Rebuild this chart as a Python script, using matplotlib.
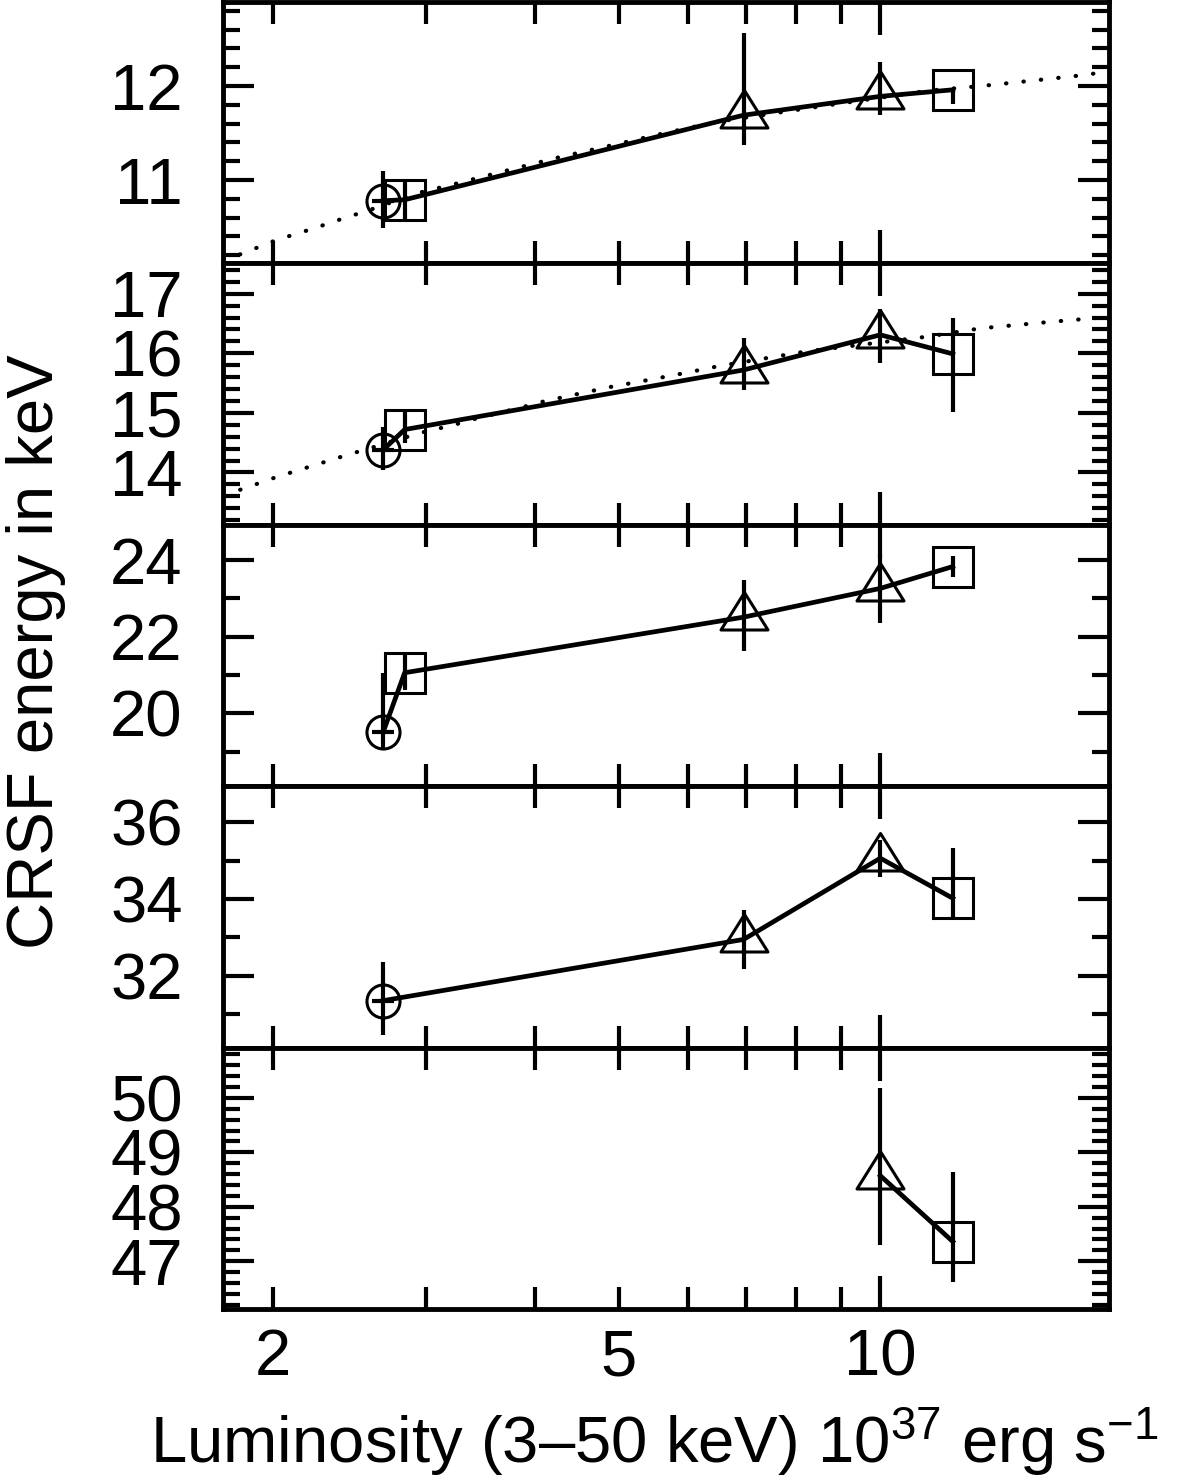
"""CRSF energy vs luminosity, five stacked panels."""

import numpy as np
import matplotlib
matplotlib.use("Agg")
import matplotlib.pyplot as plt
from matplotlib.path import Path
from matplotlib.ticker import MultipleLocator, FixedLocator, NullFormatter

plt.rcParams['font.family'] = ['Liberation Sans', 'DejaVu Sans']
plt.rcParams['mathtext.fontset'] = 'custom'
plt.rcParams['mathtext.rm'] = 'Liberation Sans'
plt.rcParams['mathtext.it'] = 'Liberation Sans:italic'

# luminosity of each observation (10^37 erg/s)
lum = [2.677, 2.833, 6.96, 10.0, 12.12]
lum_err = [0.08, 0.0, 0.0, 0.0, 0.0]
symbols = ['circle', 'square', 'triangle', 'triangle', 'square']

# line energies per harmonic (nan = not detected)
e1 = [10.78, 10.79, 11.69, 11.89, 11.96]
e1_lo = [0.29, 0.21, 0.32, 0.20, 0.15]
e1_hi = [0.32, 0.21, 0.87, 0.37, 0.02]

e2 = [14.38, 14.72, 15.72, 16.31, 15.99]
e2_lo = [0.34, 0.23, 0.34, 0.47, 0.97]
e2_hi = [0.39, 0.30, 0.53, 0.43, 0.61]

e3 = [19.52, 21.06, 22.51, 23.26, 23.83]
e3_lo = [0.43, 0.45, 0.88, 0.89, 0.26]
e3_hi = [1.52, 0.55, 0.97, 0.87, 0.28]

e4 = [31.36, np.nan, 32.95, 35.06, 34.02]
e4_lo = [0.89, 0.0, 0.77, 0.48, 0.48]
e4_hi = [1.01, 0.0, 0.76, 0.47, 1.31]

e5 = [np.nan, np.nan, np.nan, 48.57, 47.36]
e5_lo = [0.0, 0.0, 0.0, 1.28, 0.75]
e5_hi = [0.0, 0.0, 0.0, 1.62, 1.28]

# model curves (dotted)
fit1_lum = [1.75, 1.832, 2.014, 2.217, 2.44, 2.562, 2.927, 3.211, 3.71, 4.257,
            4.908, 5.649, 6.494, 8.204, 11.34, 13.06, 15.06, 17.3, 18.34]
fit1_e = [10.16, 10.21, 10.36, 10.48, 10.61, 10.67, 10.86, 10.95, 11.10,
          11.24, 11.37, 11.50, 11.62, 11.76, 11.95, 12.00, 12.06, 12.12, 12.16]
fit2_lum = [1.75, 1.832, 2.014, 2.217, 2.44, 2.562, 2.947, 3.231, 3.373, 3.881,
            4.063, 4.46, 4.908, 5.395, 5.915, 6.494, 8.204, 11.34, 13.06,
            15.77, 18.34]
fit2_e = [13.65, 13.71, 13.92, 14.11, 14.30, 14.39, 14.66, 14.80, 14.88,
          15.10, 15.18, 15.31, 15.44, 15.55, 15.66, 15.78, 16.03, 16.28,
          16.42, 16.53, 16.61]

panels = [
    dict(e=e1, lo=e1_lo, hi=e1_hi, ylim=(10.113, 12.894), major=1, minor=0.2,
         fit=(fit1_lum, fit1_e)),
    dict(e=e2, lo=e2_lo, hi=e2_hi, ylim=(13.121, 17.509), major=1, minor=0.2,
         fit=(fit2_lum, fit2_e)),
    dict(e=e3, lo=e3_lo, hi=e3_hi, ylim=(18.10, 24.919), major=2, minor=1,
         fit=None),
    dict(e=e4, lo=e4_lo, hi=e4_hi, ylim=(30.14, 36.93), major=2, minor=1,
         fit=None),
    dict(e=e5, lo=e5_lo, hi=e5_hi, ylim=(46.121, 50.924), major=1, minor=0.2,
         fit=None),
]

# triangle with its centroid at the data point, wider than tall
tri_marker = Path([(0, 25), (-23.5, -12.5), (23.5, -12.5), (0, 25)],
                  [Path.MOVETO, Path.LINETO, Path.LINETO, Path.CLOSEPOLY])
marker_style = {
    'circle': dict(marker='o', ms=23.8),
    'square': dict(marker='s', ms=28.5),
    'triangle': dict(marker=tri_marker, ms=36),
}

fig = plt.figure(figsize=(12, 14.78), dpi=100)
left, width = 223 / 1200, 886 / 1200
top_px, h_px = 2, 261.4
fs = 47

for i, p in enumerate(panels):
    bottom = 1 - (top_px + (i + 1) * h_px) / 1478
    ax = fig.add_axes([left, bottom, width, h_px / 1478])
    ax.set_xscale('log')
    ax.set_xlim(1.75, 18.34)
    ax.set_ylim(*p['ylim'])

    x = np.array(lum)
    y = np.array(p['e'])
    ok = ~np.isnan(y)

    if p['fit'] is not None:
        ax.plot(p['fit'][0], p['fit'][1], color='k', lw=3.0,
                linestyle=(0, (0.1, 4.1)), dash_capstyle='round', zorder=1)

    ax.errorbar(x[ok], y[ok], yerr=[np.array(p['lo'])[ok], np.array(p['hi'])[ok]],
                xerr=np.array(lum_err)[ok], fmt='none', ecolor='k',
                elinewidth=3.0, capsize=0, zorder=2)
    ax.plot(x[ok], y[ok], '-', color='k', lw=3.4, zorder=3)
    for xi, yi, s in zip(x[ok], y[ok], np.array(symbols)[ok]):
        ax.plot([xi], [yi], ls='none', mfc='none', mec='k', mew=2.2,
                zorder=4, clip_on=False, **marker_style[s])

    ax.yaxis.set_major_locator(MultipleLocator(p['major']))
    ax.yaxis.set_minor_locator(MultipleLocator(p['minor']))
    ax.xaxis.set_major_locator(FixedLocator([10]))
    ax.xaxis.set_minor_locator(FixedLocator([2, 3, 4, 5, 6, 7, 8, 9]))

    ax.tick_params(axis='both', which='both', direction='in', top=True,
                   right=True, width=3.0, labelsize=fs)
    ax.tick_params(axis='x', which='major', length=24, pad=14)
    ax.tick_params(axis='x', which='minor', length=16, pad=14)
    ax.tick_params(axis='y', which='major', length=22, pad=29)
    ax.tick_params(axis='y', which='minor', length=12)
    for sp in ax.spines.values():
        sp.set_linewidth(3.5)

    if i == len(panels) - 1:
        ax.set_xticks([10], ['10'])
        ax.set_xticks([2, 3, 4, 5, 6, 7, 8, 9],
                      ['2', '', '', '5', '', '', '', ''], minor=True)
    else:
        ax.xaxis.set_major_formatter(NullFormatter())
        ax.xaxis.set_minor_formatter(NullFormatter())

fig.text(36 / 1200, 1 - 652 / 1478, 'CRSF energy in keV', rotation=90,
         ha='center', va='center', fontsize=fs)
fig.text(150 / 1200, 1 - 1463 / 1478,
         'Luminosity (3\u201350 keV) 10$^{37}$ erg s$^{-1}$',
         ha='left', va='baseline', fontsize=fs)

fig.savefig('out.png', dpi=100)
